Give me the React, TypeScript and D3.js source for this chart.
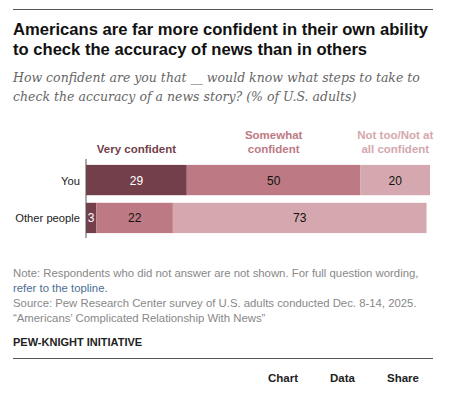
import { useEffect, useRef } from "react";
import * as d3 from "d3";

const categories = ["You", "Other people"];
const responses = ["Very confident", "Somewhat confident", "Not too/Not at all confident"];
const veryConfident = [29, 3];
const somewhatConfident = [50, 22];
const notConfident = [20, 73];
const colors = ["#733f4a", "#bd7a84", "#d4a8ae"];
const legendLines = [["Very confident"], ["Somewhat", "confident"], ["Not too/Not at", "all confident"]];

const W = 449;
const H = 397;

export default function App() {
    const svgRef = useRef<SVGSVGElement>(null);

    useEffect(() => {
        const svg = d3.select(svgRef.current);
        svg.selectAll("*").remove();

        const sans = "'Liberation Sans', Arial, sans-serif";

        // top rule + title
        svg.append("line").attr("x1", 13).attr("x2", 433).attr("y1", 9.5).attr("y2", 9.5)
            .attr("stroke", "#555").attr("stroke-width", 1);
        const title = ["Americans are far more confident in their own ability", "to check the accuracy of news than in others"];
        title.forEach((t, i) => {
            svg.append("text").attr("x", 13).attr("y", 35 + i * 19.5).text(t)
                .attr("font-family", sans).attr("font-weight", "bold").attr("font-size", 16.6)
                .attr("fill", "#111");
        });
        const sub = ["How confident are you that __ would know what steps to take to", "check the accuracy of a news story? (% of U.S. adults)"];
        sub.forEach((t, i) => {
            svg.append("text").attr("x", 13).attr("y", 82 + i * 19).text(t)
                .attr("font-family", "'DejaVu Serif', Georgia, serif").attr("font-style", "italic")
                .attr("font-size", 12.5).attr("fill", "#666");
        });

        // chart
        const x = d3.scaleLinear().domain([0, 100]).range([86, 433.5]);
        const y = d3.scaleBand().domain(categories).range([163, 235]).paddingInner(0.2).paddingOuter(0.05);

        const rows = categories.map((c, i) => ({
            cat: c,
            vals: [veryConfident[i], somewhatConfident[i], notConfident[i]],
        }));

        const g = svg.append("g");
        rows.forEach(r => {
            let acc = 0;
            r.vals.forEach((v, j) => {
                const x0 = x(acc);
                const x1 = x(acc + v);
                g.append("rect").attr("x", x0).attr("y", y(r.cat)!).attr("width", x1 - x0)
                    .attr("height", y.bandwidth()).attr("fill", colors[j]);
                g.append("text").attr("x", (x0 + x1) / 2).attr("y", y(r.cat)! + y.bandwidth() / 2 + 4.5)
                    .attr("text-anchor", "middle").attr("font-family", sans).attr("font-size", 12)
                    .attr("fill", j === 0 ? "#fff" : "#111").text(v);
                acc += v;
            });
            g.append("text").attr("x", 80).attr("y", y(r.cat)! + y.bandwidth() / 2 + 4.5)
                .attr("text-anchor", "end").attr("font-family", sans).attr("font-size", 11.2)
                .attr("fill", "#222").text(r.cat);
        });

        // axis line
        svg.append("line").attr("x1", 86).attr("x2", 86).attr("y1", 159).attr("y2", 238)
            .attr("stroke", "#555").attr("stroke-width", 1);

        // legend above the You bar
        let acc = 0;
        responses.forEach((resp, j) => {
            const v = rows[0].vals[j];
            const cx = (x(acc) + x(acc + v)) / 2;
            acc += v;
            const lines = legendLines[j];
            lines.forEach((l, k) => {
                svg.append("text").attr("x", cx).attr("y", 153 - (lines.length - 1 - k) * 14.5)
                    .attr("text-anchor", "middle").attr("font-family", sans).attr("font-weight", "bold")
                    .attr("font-size", 11.5).attr("fill", colors[j]).text(l);
            });
        });

        // notes
        const noteColor = "#888";
        const notes = svg.append("g").attr("font-family", sans).attr("font-size", 11.35).attr("fill", noteColor);
        notes.append("text").attr("x", 13).attr("y", 277).text("Note: Respondents who did not answer are not shown. For full question wording,");
        notes.append("text").attr("x", 13).attr("y", 292).attr("fill", "#4a6f95").text("refer to the topline.");
        notes.append("text").attr("x", 13).attr("y", 307).text("Source: Pew Research Center survey of U.S. adults conducted Dec. 8-14, 2025.");
        notes.append("text").attr("x", 13).attr("y", 322).text("\u201cAmericans\u2019 Complicated Relationship With News\u201d");

        svg.append("text").attr("x", 13).attr("y", 346).attr("font-family", sans).attr("font-weight", "bold")
            .attr("font-size", 11).attr("fill", "#222").text("PEW-KNIGHT INITIATIVE");

        svg.append("line").attr("x1", 13).attr("x2", 433).attr("y1", 358.5).attr("y2", 358.5)
            .attr("stroke", "#555").attr("stroke-width", 1);

        const btns = [["Chart", 268], ["Data", 330], ["Share", 387]] as const;
        btns.forEach(([t, bx]) => {
            svg.append("text").attr("x", bx).attr("y", 382).attr("font-family", sans).attr("font-weight", "bold")
                .attr("font-size", 11.5).attr("fill", "#222").text(t);
        });
    }, []);

    return (
        <svg ref={svgRef} width={W} height={H}
            style={{ position: "absolute", left: 0, top: 0, background: "#fff" }} />
    );
}
